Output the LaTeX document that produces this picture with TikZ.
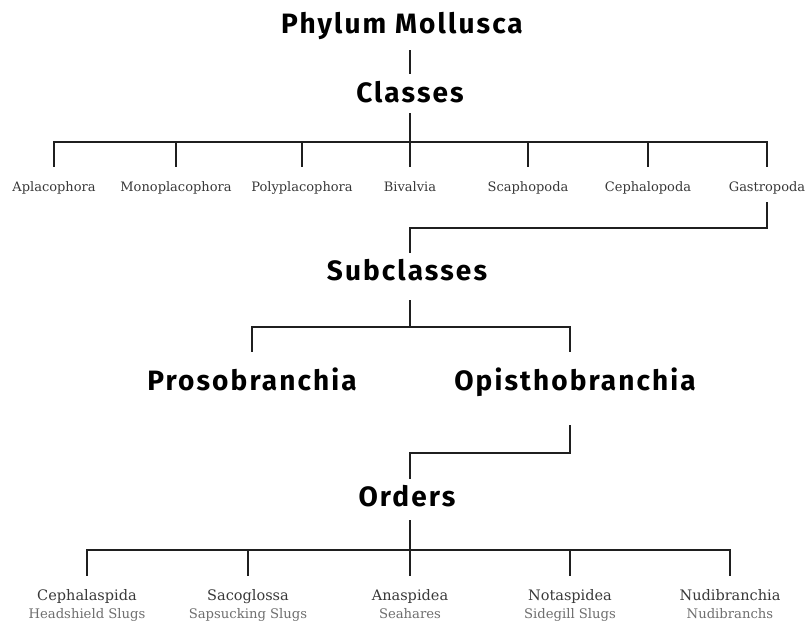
\documentclass[tikz,border=0pt]{standalone}
\usepackage{fontspec}
\newfontfamily\headfont[LetterSpace=7.5]{Fira Sans}
\newfontfamily\labelfont{DejaVu Serif}
\usetikzlibrary{positioning}
\definecolor{inkgray}{HTML}{383838}
\definecolor{commongray}{HTML}{6E6E6E}
\tikzset{
  head/.style={
    font=\headfont\bfseries\fontsize{28}{30}\selectfont,
    text=black,
    inner sep=0pt, text height=20pt, text depth=0pt,
    anchor=base},
  taxon/.style={
    font=\labelfont\fontsize{13}{15}\selectfont,
    text=inkgray,
    inner sep=0pt, text height=10pt, text depth=3pt,
    anchor=base},
  order/.style={
    font=\labelfont\fontsize{14.5}{17}\selectfont,
    text=inkgray,
    inner sep=0pt, text height=11pt, text depth=3pt,
    anchor=base},
  common/.style={
    font=\labelfont\fontsize{13.2}{15}\selectfont,
    text=commongray,
    inner sep=0pt, anchor=base},
  link/.style={draw, line width=1.5pt, black!88},
}

\begin{document}
\begin{tikzpicture}[x=1pt,y=-1pt]
\useasboundingbox (0,0) rectangle (811,622);

% headings
\node[head] (phylum) at (402,33) {Phylum Mollusca};
\node[head] (classes) at (410,102) {Classes};
\node[head] (subclasses) at (407,280) {Subclasses};
\node[head] (proso) at (252,390) {Prosobranchia};
\node[head] (opistho) at (575,390) {Opisthobranchia};
\node[head] (orders) at (407,506) {Orders};

% classes
\foreach \name/\x/\txt in {apla/54/Aplacophora, mono/176/Monoplacophora,
    poly/302/Polyplacophora, biva/410/Bivalvia, scapho/528/Scaphopoda,
    cephalo/648/Cephalopoda, gastro/767/Gastropoda}
  \node[taxon] (\name) at (\x,191) {\txt};

% orders
\foreach \name/\x/\txt/\common in {cephal/87/Cephalaspida/Headshield Slugs,
    saco/248/Sacoglossa/Sapsucking Slugs, anasp/410/Anaspidea/Seahares,
    notasp/570/Notaspidea/Sidegill Slugs, nudi/730/Nudibranchia/Nudibranchs}
{
  \node[order] (\name) at (\x,600) {\txt};
  \node[common] (\name-common) at (\x,618) {\common};
}

% junctions
\coordinate (classbar) at (410,142);
\coordinate (gastrojoin) at (410,228);
\coordinate (subbar) at (410,327);
\coordinate (opisthojoin) at (410,453);
\coordinate (orderbar) at (410,550);

% connectors
\draw[link, shorten <=17pt, shorten >=8pt] (phylum.south -| classes) -- (classes.north);
\draw[link, shorten <=11pt] (classes.south -| classbar) -- (classbar);
\foreach \name in {apla,mono,poly,biva,scapho,cephalo,gastro}
  \draw[link, shorten >=14pt] (classbar) -| (\name.north);

\draw[link, shorten <=8pt, shorten >=7pt] (gastro.south) |- (gastrojoin) -- (gastrojoin |- subclasses.north);
\draw[link, shorten <=20pt] (subclasses.south -| subbar) -- (subbar);
\draw[link, shorten >=18pt] (subbar) -| (proso.north);
\draw[link, shorten >=18pt] (subbar) -| ([xshift=-5pt]opistho.north);

\draw[link, shorten <=35pt, shorten >=7pt] ([xshift=-5pt]opistho.south) |- (opisthojoin) -- (opisthojoin |- orders.north);
\draw[link, shorten <=14pt] (orders.south -| orderbar) -- (orderbar);
\foreach \name in {cephal,saco,anasp,notasp,nudi}
  \draw[link, shorten >=13pt] (orderbar) -| (\name.north);

\end{tikzpicture}
\end{document}
